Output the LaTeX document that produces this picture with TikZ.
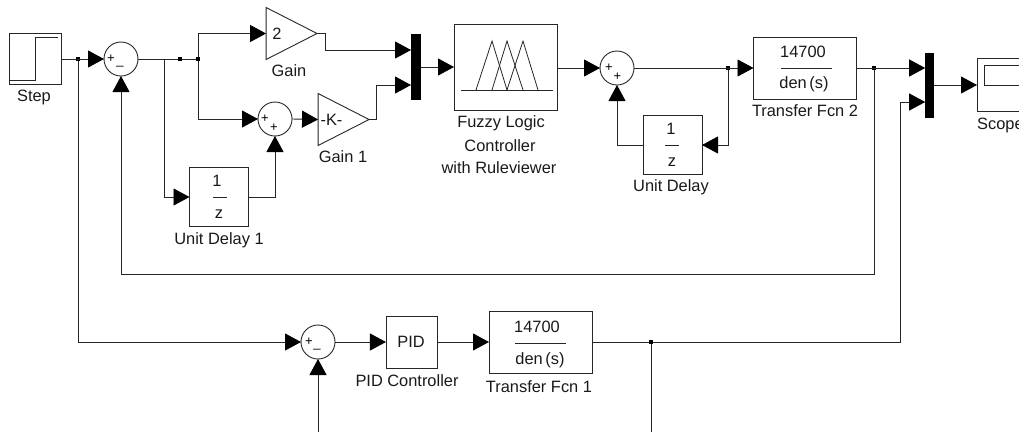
\documentclass[tikz,border=0pt]{standalone}
\usepackage{fontspec}
\setmainfont{Liberation Sans}
\usetikzlibrary{arrows.meta,shapes.geometric}
\tikzset{
  wire/.style={line width=0.9pt,draw=black!85},
  arr/.style={wire,-{Triangle[length=16pt,width=17pt,color=black]}},
  blk/.style={draw=black!85,line width=0.9pt,rectangle,inner sep=0pt,outer sep=0pt},
  sumn/.style={draw=black!85,line width=0.9pt,circle,minimum size=34pt,inner sep=0pt,outer sep=0pt},
  gaintri/.style={draw=black!85,line width=0.9pt,isosceles triangle,isosceles triangle stretches,
     shape border rotate=0,minimum width=52pt,minimum height=51pt,inner sep=0pt,outer sep=0pt},
  muxn/.style={fill=black,rectangle,inner sep=0pt,outer sep=0pt},
  dotn/.style={fill=black,rectangle,minimum size=3.4pt,inner sep=0pt,outer sep=0pt},
  lab/.style={font=\fontsize{16.4}{16.4}\selectfont,inner sep=0pt,text=black!90},
  sgn/.style={font=\fontsize{13}{13}\selectfont,inner sep=0pt},
  thinl/.style={line width=0.8pt,draw=black!85},
}
\begin{document}
\begin{tikzpicture}[x=1pt,y=-1pt]
\useasboundingbox (0,0) rectangle (1019,432);
% blocks
\node[blk,minimum width=51.5pt,minimum height=51pt] (step) at (35.2,59) {};
\node[sumn] (s1) at (121,59) {};
\node[gaintri] (gain) at (282,33.5) {};
\node[sumn] (s2) at (275,119) {};
\node[gaintri] (gain1) at (334,119.5) {};
\node[blk,minimum width=59pt,minimum height=59pt] (ud1) at (219,197) {};
\node[muxn,minimum width=10pt,minimum height=66pt] (mux1) at (416,67) {};
\node[blk,minimum width=103pt,minimum height=86pt] (flc) at (505.5,67) {};
\node[sumn] (s4) at (617,68) {};
\node[blk,minimum width=59pt,minimum height=59pt] (ud) at (672.5,145) {};
\node[blk,minimum width=103pt,minimum height=62pt] (tf2) at (805,68) {};
\node[muxn,minimum width=8.5pt,minimum height=65pt] (mux2) at (929.5,85) {};
\node[blk,minimum width=70pt,minimum height=53pt] (scope) at (1012,85) {};
\node[sumn] (s3) at (318,342) {};
\node[blk,minimum width=51.5pt,minimum height=52pt] (pid) at (411.7,342) {};
\node[blk,minimum width=103pt,minimum height=62pt] (tf1) at (540.5,342) {};
% junctions
\node[dotn] (j1) at (78,59) {};
\node[dotn] (j2) at (180,59) {};
\node[dotn] (j3) at (198,59) {};
\node[dotn] (j4) at (728,68) {};
\node[dotn] (j5) at (874,68) {};
\node[dotn] (j6) at (651,342) {};
% free ends and ports
\coordinate (m1a) at (411,50);
\coordinate (m1b) at (411,85);
\coordinate (m2a) at (925.2,68);
\coordinate (m2b) at (925.2,102);
\coordinate (e3) at (318,432);
\coordinate (e6) at (651,432);
% step and fuzzy glyphs
\draw[thinl] (10,80.5) -- (35,80.5) -- (35,37.5) -- (58,37.5);
\draw[thinl] (461,90) -- (553,90);
\draw[thinl] (476,90) -- (492,41) -- (507,90);
\draw[thinl] (492,90) -- (507,41) -- (523,90);
\draw[thinl] (507,90) -- (523,41) -- (538,90);
\draw[thinl] (984,85) -- (984,65) -- (1019,65);
\draw[thinl] (984,85) -- (1019,85);
% fractions
\draw[thinl] (213,197) -- (227,197);
\draw[thinl] (665,145) -- (679,145);
\draw[thinl] (781,68) -- (832,68);
\draw[thinl] (515,343) -- (566,343);
% wires
\draw[arr] (step.east) -- (s1.west);
\draw[wire] (s1.east) -- (j2) -- (j3);
\draw[arr] (j3) |- (gain.west);
\draw[arr] (j3) |- (s2.west);
\draw[arr] (s2.east) -- (gain1.west);
\draw[arr] (j2 -| 164,59) |- (ud1.west);
\draw[arr] (ud1.east) -| (s2.south);
\draw[arr] (gain.east) -- ++(8,0) |- (m1a);
\draw[arr] (gain1.east) -- ++(7,0) |- (m1b);
\draw[arr] (mux1.east) -- (flc.west);
\draw[arr] (flc.east |- s4.west) -- (s4.west);
\draw[arr] (s4.east) -- (tf2.west);
\draw[arr] (j4) |- (ud.east);
\draw[arr] (ud.west) -| (s4.south);
\draw[arr] (tf2.east) -- (m2a);
\draw[arr] (mux2.east) -- (scope.west);
\draw[arr] (j5) |- (121,274) -- (s1.south);
\draw[arr] (j1) |- (s3.west);
\draw[arr] (e3) -- (s3.south);
\draw[arr] (s3.east) -- (pid.west);
\draw[arr] (pid.east) -- (tf1.west);
\draw[wire] (tf1.east) -- (j6);
\draw[wire] (j6) -- (e6);
\draw[arr] (j6) -| (900,102) -- (m2b);
% signs
\node[sgn] (p1) at (111,59) {+};
\node[sgn] (m1) at (120,66) {\_};
\node[sgn] (p2) at (265,119) {+};
\node[sgn] (p2b) at (274,128) {+};
\node[sgn] (p4) at (609,68) {+};
\node[sgn] (p4b) at (617.5,77) {+};
\node[sgn] (p3) at (309,342) {+};
\node[sgn] (m3) at (317,349) {\_};
% block texts
\node[lab] (g2) at (277,33.5) {2};
\node[lab] (gk) at (331.5,119.5) {-K-};
\node[lab] (n1) at (217,180.5) {1};
\node[lab] (z1) at (219,214) {z};
\node[lab] (n2) at (671,129) {1};
\node[lab] (z2) at (672,162) {z};
\node[lab] (n3) at (803,52) {14700};
\node[lab] (d3) at (804,84) {den\,(s)};
\node[lab] (n4) at (537,327) {14700};
\node[lab] (d4) at (540,360) {den\,(s)};
\node[lab] (pt) at (411,342) {PID};
% captions
\node[lab] (c1) at (34,97.5) {Step};
\node[lab] (c2) at (289,71) {Gain};
\node[lab] (c3) at (343,157) {Gain 1};
\node[lab] (c4) at (219,240) {Unit Delay 1};
\node[lab] (c5) at (501,123) {Fuzzy Logic};
\node[lab] (c6) at (500,146) {Controller};
\node[lab] (c7) at (499,168) {with Ruleviewer};
\node[lab] (c8) at (671,187) {Unit Delay};
\node[lab] (c9) at (805,111) {Transfer Fcn 2};
\node[lab,anchor=west] (c10) at (977,125) {Scope};
\node[lab] (c11) at (407,381) {PID Controller};
\node[lab] (c12) at (539,387) {Transfer Fcn 1};
\end{tikzpicture}
\end{document}
